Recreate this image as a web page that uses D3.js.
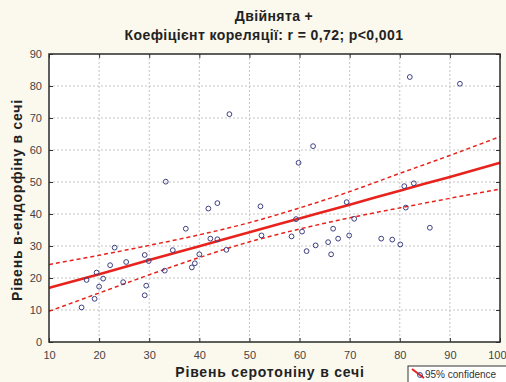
<!DOCTYPE html>
<html>
<head>
<meta charset="utf-8">
<script src="https://cdn.jsdelivr.net/npm/d3@7"></script>
<style>
  body { margin: 0; background: #fbf8ee; }
  svg { display: block; font-family: "Liberation Sans", Arial, sans-serif; }
</style>
</head>
<body>
<svg id="chart" width="506" height="382"></svg>
<script>
// scatter points (serotonin, endorphin)
const serotonin = [46.0, 33.3, 82.0, 92.0, 62.7, 59.8, 80.9, 82.8, 41.8, 43.6, 52.2, 37.3, 42.2, 43.6, 45.4,
  34.7, 52.4, 23.1, 29.1, 25.4, 29.9, 22.2, 19.5, 20.8, 17.5, 24.8, 20.0, 33.1, 39.1, 38.5, 40.0, 29.4,
  19.1, 29.1, 16.5, 69.4, 59.3, 70.9, 81.2, 58.4, 60.5, 66.7, 69.9, 67.7, 65.7, 63.2, 61.4, 66.3, 76.3,
  78.5, 80.1, 86.0];
const endorphin = [71.2, 50.1, 82.8, 80.7, 61.2, 56.0, 48.7, 49.6, 41.7, 43.4, 42.4, 35.4, 32.3, 32.1, 28.8,
  28.7, 33.3, 29.5, 27.2, 25.0, 25.3, 24.0, 21.7, 19.8, 19.4, 18.7, 17.3, 22.3, 24.6, 23.3, 27.4, 17.6,
  13.5, 14.6, 10.8, 43.7, 38.4, 38.5, 42.0, 33.0, 34.5, 35.4, 33.3, 32.3, 31.2, 30.2, 28.4, 27.4, 32.3,
  32.0, 30.5, 35.7];

// fitted line and 95% confidence limits
const fitX = [10, 20, 30, 40, 50, 60, 70, 80, 90, 100];
const fitY = [16.9, 21.2, 25.6, 29.9, 34.3, 38.6, 42.9, 47.3, 51.6, 56.0];
const upperY = [24.2, 27.1, 30.2, 33.5, 37.3, 41.9, 47.0, 52.7, 58.3, 64.2];
const lowerY = [9.6, 15.3, 21.0, 26.4, 31.3, 35.3, 38.8, 41.9, 44.9, 47.8];

const xTicks = [10, 20, 30, 40, 50, 60, 70, 80, 90, 100];
const yTicks = [0, 10, 20, 30, 40, 50, 60, 70, 80, 90];

const svg = d3.select("#chart");
const margin = { left: 49, right: 6, top: 54, bottom: 40 };
const W = 506, H = 382;

const x = d3.scaleLinear().domain([10, 100]).range([margin.left, W - margin.right]);
const y = d3.scaleLinear().domain([0, 90]).range([H - margin.bottom, margin.top]);

// plot background
svg.append("rect")
  .attr("x", x(10)).attr("y", y(90))
  .attr("width", x(100) - x(10)).attr("height", y(0) - y(90))
  .attr("fill", "#fff");

// grid
const grid = svg.append("g").attr("stroke", "#c4c4c4").attr("stroke-dasharray", "2,2");
grid.selectAll(".gx").data(xTicks.slice(1, -1)).join("line")
  .attr("x1", d => x(d)).attr("x2", d => x(d))
  .attr("y1", y(90)).attr("y2", y(0));
grid.selectAll(".gy").data(yTicks.slice(1, -1)).join("line")
  .attr("x1", x(10)).attr("x2", x(100))
  .attr("y1", d => y(d)).attr("y2", d => y(d));

// axes, ticks inward
const tickStyle = g => {
  g.select(".domain").remove();
  g.selectAll(".tick line").attr("stroke", "#333");
  g.selectAll(".tick text").attr("fill", "#444").style("font-size", "11px");
};
svg.append("g").attr("transform", `translate(0,${y(0)})`)
  .call(d3.axisBottom(x).tickValues(xTicks).tickSizeInner(-4).tickPadding(9))
  .call(tickStyle)
  .call(g => g.selectAll(".tick text").filter(d => d === 100)
    .attr("text-anchor", "end").attr("dx", 6));
svg.append("g").attr("transform", `translate(0,${y(90)})`)
  .call(d3.axisTop(x).tickValues(xTicks).tickSize(-4).tickFormat(""))
  .call(tickStyle);
svg.append("g").attr("transform", `translate(${x(10)},0)`)
  .call(d3.axisLeft(y).tickValues(yTicks).tickSizeInner(-4).tickPadding(7))
  .call(tickStyle);
svg.append("g").attr("transform", `translate(${x(100)},0)`)
  .call(d3.axisRight(y).tickValues(yTicks).tickSize(-4).tickFormat(""))
  .call(tickStyle);

// confidence band and fit
const line = d3.line().x((d, i) => x(fitX[i])).y(d => y(d)).curve(d3.curveMonotoneX);
svg.append("path").attr("d", line(upperY))
  .attr("fill", "none").attr("stroke", "#e8231d").attr("stroke-width", 1.5).attr("stroke-dasharray", "4,3");
svg.append("path").attr("d", line(lowerY))
  .attr("fill", "none").attr("stroke", "#e8231d").attr("stroke-width", 1.5).attr("stroke-dasharray", "4,3");
svg.append("path").attr("d", line(fitY))
  .attr("fill", "none").attr("stroke", "#e8231d").attr("stroke-width", 2.6);

// points
svg.append("g").selectAll("circle").data(serotonin).join("circle")
  .attr("cx", d => x(d)).attr("cy", (d, i) => y(endorphin[i]))
  .attr("r", 2.4).attr("fill", "none").attr("stroke", "#3d3f80").attr("stroke-width", 1);

// frame
svg.append("rect")
  .attr("x", x(10)).attr("y", y(90))
  .attr("width", x(100) - x(10)).attr("height", y(0) - y(90))
  .attr("fill", "none").attr("stroke", "#2a2a2a").attr("stroke-width", 1.5);

// titles
const bold = sel => sel.style("font-size", "14px").style("font-weight", "bold").attr("fill", "#222");
svg.append("text").attr("x", 274).attr("y", 21).attr("text-anchor", "middle")
  .call(bold).style("letter-spacing", "0.4px")
  .text("Двійнята +");
svg.append("text").attr("x", 264).attr("y", 40).attr("text-anchor", "middle")
  .call(bold).style("letter-spacing", "0.4px")
  .text("Коефіцієнт кореляції: r = 0,72; p<0,001");
svg.append("text").attr("x", 270).attr("y", 377).attr("text-anchor", "middle")
  .call(bold).style("letter-spacing", "0.8px")
  .text("Рівень серотоніну в сечі");
svg.append("text").attr("transform", "translate(22,200) rotate(-90)").attr("text-anchor", "middle")
  .call(bold).style("letter-spacing", "0.8px")
  .text("Рівень в-ендорфіну в сечі");

// legend (reaches the right edge)
const leg = svg.append("g").attr("transform", "translate(408,366)");
leg.append("rect").attr("width", 110).attr("height", 22).attr("fill", "#fff").attr("stroke", "#333");
leg.append("line").attr("x1", 4).attr("y1", 3).attr("x2", 16).attr("y2", 12)
  .attr("stroke", "#e8231d").attr("stroke-width", 2);
leg.append("circle").attr("cx", 12).attr("cy", 9).attr("r", 2.4)
  .attr("fill", "none").attr("stroke", "#3d3f80");
leg.append("text").attr("x", 17).attr("y", 12).style("font-size", "10px").attr("fill", "#333")
  .text("95% confidence");
</script>
</body>
</html>
